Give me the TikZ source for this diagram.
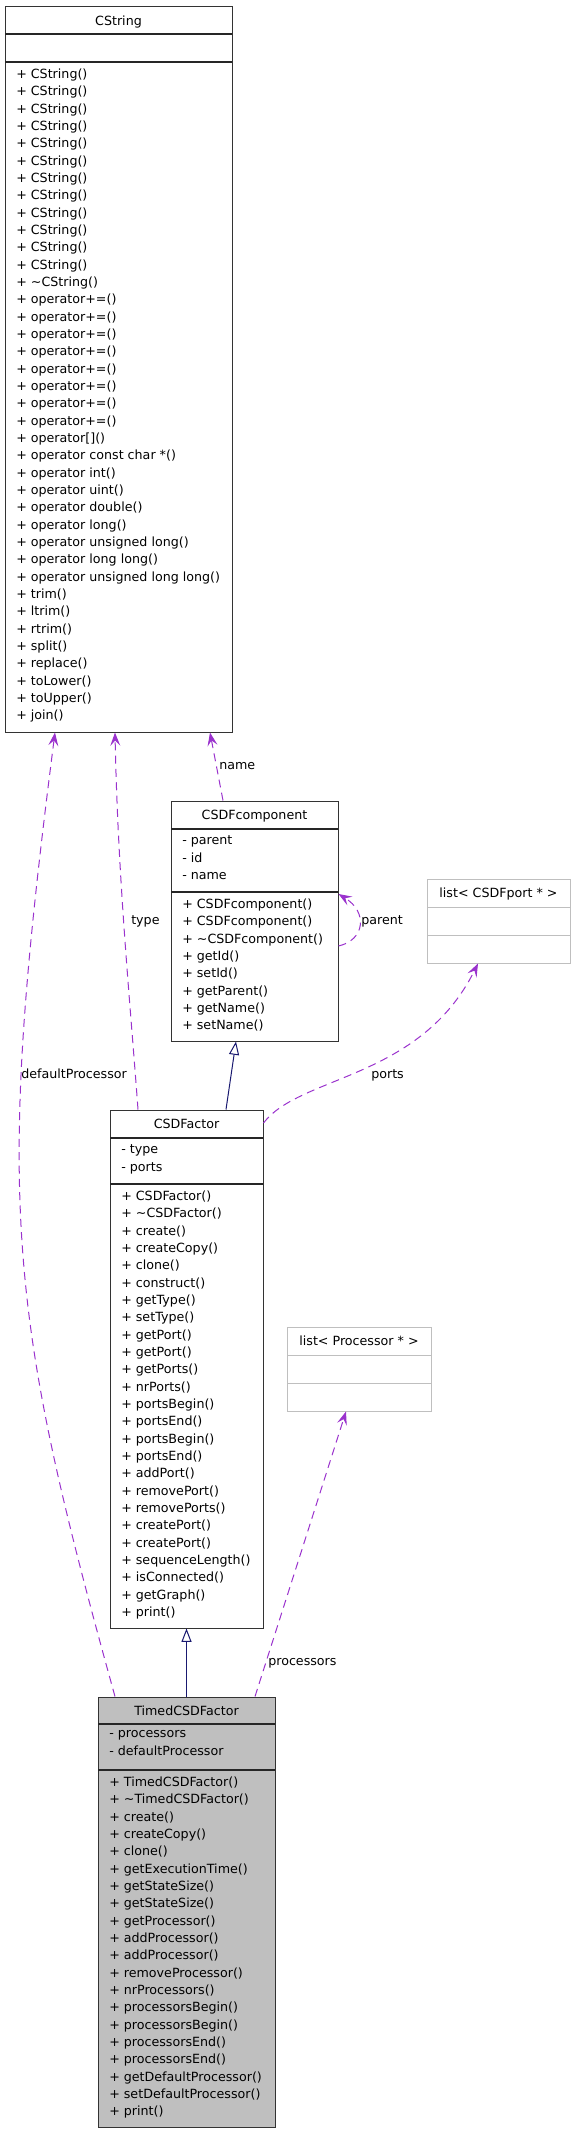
\documentclass[tikz,border=0pt]{standalone}
\usepackage{fontspec}
\setmainfont{DejaVu Sans}
\usetikzlibrary{arrows.meta,fit}
\definecolor{usepurple}{HTML}{9A32CD}
\definecolor{inheritblue}{HTML}{191970}
\definecolor{focusgrey}{HTML}{BFBFBF}
\begin{document}
\begin{tikzpicture}[x=0.75pt, y=-0.75pt,
  every node/.style={font=\fontsize{9.5}{13}\selectfont},
  classbox/.style={draw=black!80, line width=0.75pt, inner sep=0pt},
  templbox/.style={draw=focusgrey, line width=0.75pt, inner sep=0pt},
  classsep/.style={draw=black!85, line width=0.9pt},
  templsep/.style={draw=focusgrey, line width=0.75pt},
  classtitle/.style={anchor=base, inner sep=0pt},
  members/.style={anchor=north west, inner sep=0pt, align=left, execute at begin node=\strut},
  edgelabel/.style={anchor=base west, inner sep=0pt},
  usedep/.style={usepurple, line width=0.75pt, dash pattern=on 6pt off 4pt,
    -{Stealth[length=10pt, width=7.5pt, inset=4pt]}},
  inherit/.style={inheritblue, line width=0.75pt,
    -{Triangle[open, length=10pt, width=7.5pt, fill=white]}}]
\useasboundingbox (0,0) rectangle (575,2133);

% CString
\node[classbox, fit={(5,7) (232,732)}] (cstring) {};
\draw[classsep] (5,34) -- (232,34);
\draw[classsep] (5,62) -- (232,62);
\node[classtitle] (cstringtitle) at (118.5,25.6) {CString};
\node[members] (cstringops) at (16,68.5) {+ CString()\\+ CString()\\+ CString()\\+ CString()\\+ CString()\\+ CString()\\+ CString()\\+ CString()\\+ CString()\\+ CString()\\+ CString()\\+ CString()\\+ \textasciitilde CString()\\+ operator+=()\\+ operator+=()\\+ operator+=()\\+ operator+=()\\+ operator+=()\\+ operator+=()\\+ operator+=()\\+ operator+=()\\+ operator[]()\\+ operator const char *()\\+ operator int()\\+ operator uint()\\+ operator double()\\+ operator long()\\+ operator unsigned long()\\+ operator long long()\\+ operator unsigned long long()\\+ trim()\\+ ltrim()\\+ rtrim()\\+ split()\\+ replace()\\+ toLower()\\+ toUpper()\\+ join()};

% CSDFcomponent
\node[classbox, fit={(171,801) (338,1041)}] (csdfcomp) {};
\draw[classsep] (171,829) -- (338,829);
\draw[classsep] (171,892) -- (338,892);
\node[classtitle] (csdfcomptitle) at (254.5,819.6) {CSDFcomponent};
\node[members] (csdfcompattr) at (182,835.5) {- parent\\- id\\- name};
\node[members] (csdfcompops) at (182,898.5) {+ CSDFcomponent()\\+ CSDFcomponent()\\+ \textasciitilde CSDFcomponent()\\+ getId()\\+ setId()\\+ getParent()\\+ getName()\\+ setName()};

% list< CSDFport * >
\node[templbox, fit={(427,879) (570,963)}] (listport) {};
\draw[templsep] (427,907) -- (570,907);
\draw[templsep] (427,935) -- (570,935);
\node[classtitle] (listporttitle) at (498.5,897.6) {list< CSDFport * >};

% CSDFactor
\node[classbox, fit={(110,1110) (263,1628)}] (csdfactor) {};
\draw[classsep] (110,1138) -- (263,1138);
\draw[classsep] (110,1184) -- (263,1184);
\node[classtitle] (csdfactortitle) at (186.5,1128.6) {CSDFactor};
\node[members] (csdfactorattr) at (121,1144.5) {- type\\- ports};
\node[members] (csdfactorops) at (121,1190.5) {+ CSDFactor()\\+ \textasciitilde CSDFactor()\\+ create()\\+ createCopy()\\+ clone()\\+ construct()\\+ getType()\\+ setType()\\+ getPort()\\+ getPort()\\+ getPorts()\\+ nrPorts()\\+ portsBegin()\\+ portsEnd()\\+ portsBegin()\\+ portsEnd()\\+ addPort()\\+ removePort()\\+ removePorts()\\+ createPort()\\+ createPort()\\+ sequenceLength()\\+ isConnected()\\+ getGraph()\\+ print()};

% list< Processor * >
\node[templbox, fit={(287,1327) (431,1411)}] (listproc) {};
\draw[templsep] (287,1355) -- (431,1355);
\draw[templsep] (287,1383) -- (431,1383);
\node[classtitle] (listproctitle) at (359,1345.6) {list< Processor * >};

% TimedCSDFactor
\node[classbox, fill=focusgrey, fit={(98,1697) (275,2127)}] (timed) {};
\draw[classsep] (98,1724) -- (275,1724);
\draw[classsep] (98,1770) -- (275,1770);
\node[classtitle] (timedtitle) at (186.5,1715.6) {TimedCSDFactor};
\node[members] (timedattr) at (109,1730.5) {- processors\\- defaultProcessor};
\node[members] (timedops) at (109,1776.5) {+ TimedCSDFactor()\\+ \textasciitilde TimedCSDFactor()\\+ create()\\+ createCopy()\\+ clone()\\+ getExecutionTime()\\+ getStateSize()\\+ getStateSize()\\+ getProcessor()\\+ addProcessor()\\+ addProcessor()\\+ removeProcessor()\\+ nrProcessors()\\+ processorsBegin()\\+ processorsBegin()\\+ processorsEnd()\\+ processorsEnd()\\+ getDefaultProcessor()\\+ setDefaultProcessor()\\+ print()};

% inheritance
\draw[inherit] (csdfactor.north -| 226,0) -- (csdfcomp.south -| 236,0);
\draw[inherit] (timed.north) -- (csdfactor.south);

% usage
\draw[usedep] (csdfcomp.north -| 223,0) -- (cstring.south -| 210,0);
\draw[usedep] (csdfactor.north -| 138,0) .. controls (130,1000) and (118,880) .. (cstring.south -| 115,0);
\draw[usedep] (timed.north -| 115,0) .. controls (8,1310) and (-5,1200) .. (cstring.south -| 55,0);
\draw[usedep] (csdfcomp.east |- 0,946) .. controls (365,940) and (368,912) .. (csdfcomp.east |- 0,894);
\draw[usedep] (csdfactor.east |- 0,1123) .. controls (300,1075) and (420,1080) .. (listport.south -| 478,0);
\draw[usedep] (timed.north -| 255,0) -- (listproc.south -| 346,0);

\node[edgelabel] (lblname) at (219,769.5) {name};
\node[edgelabel] (lbltype) at (131,924.5) {type};
\node[edgelabel] (lblparent) at (361,924.5) {parent};
\node[edgelabel] (lbldefault) at (21,1078) {defaultProcessor};
\node[edgelabel] (lblports) at (371,1078) {ports};
\node[edgelabel] (lblprocs) at (268,1665.5) {processors};
\end{tikzpicture}
\end{document}
